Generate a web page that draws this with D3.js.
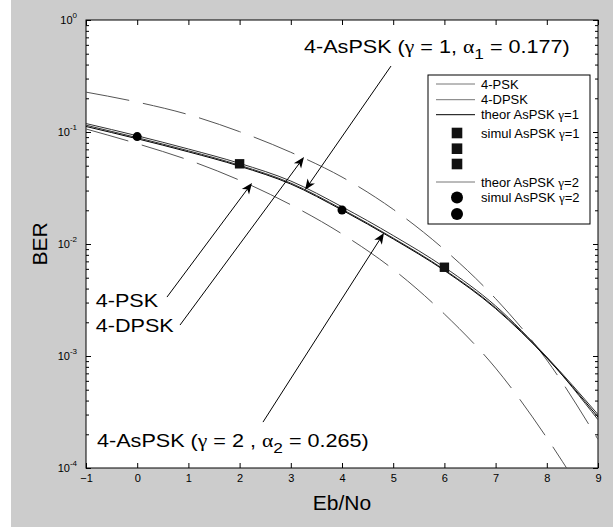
<!DOCTYPE html>
<html>
<head>
<meta charset="utf-8">
<script src="https://cdn.jsdelivr.net/npm/d3@7"></script>
<style>
  body { margin: 0; background: #fff; }
  svg { display: block; }
  text { font-family: "Liberation Sans", Arial, Helvetica, sans-serif; fill: #000; }
  .greek { font-family: "Liberation Serif", "DejaVu Serif", serif; }
</style>
</head>
<body>
<div class="chart"></div>
<script>
// data
var ebNo = [-1, 0, 1, 2, 3, 4, 5, 6, 7, 8, 9];
var berPsk = [0.119, 0.0925, 0.0705, 0.0525, 0.0365, 0.0215, 0.0119, 0.0062, 0.0028, 0.00098, 0.000300];
var berDpsk = [0.115, 0.089, 0.068, 0.0505, 0.035, 0.0205, 0.0113, 0.0059, 0.0027, 0.00097, 0.000270];
var berTheor1 = [0.112, 0.087, 0.0665, 0.0495, 0.0343, 0.0201, 0.0111, 0.0058, 0.00265, 0.00096, 0.000285];
var berDashHigh = [0.227, 0.185, 0.143, 0.1007, 0.0659, 0.0396, 0.0204, 0.0089, 0.00325, 0.00092, 0.00018];
var dashLowX = [-1, 0, 1, 2, 3, 4, 5, 6, 7, 8, 8.5];
var berDashLow = [0.1064, 0.0787, 0.0562, 0.0371, 0.0224, 0.0123, 0.00594, 0.00237, 0.00078, 0.000186, 0.000083];
var simul1X = [2, 6];
var simul1Ber = [0.052, 0.0062];
var simul2X = [0, 4];
var simul2Ber = [0.091, 0.0201];
var xTicks = [-1, 0, 1, 2, 3, 4, 5, 6, 7, 8, 9];
var yTicks = [1e-4, 1e-3, 1e-2, 1e-1, 1];
var yTickExp = ["-4", "-3", "-2", "-1", "0"];

var width = 613;
var height = 527;
var margin = { top: 20, right: 15, bottom: 59, left: 86 };

var svg = d3
  .select(".chart")
  .append("svg")
  .attr("width", width)
  .attr("height", height);

// figure background
svg.append("rect").attr("width", width).attr("height", height).attr("fill", "#fff");
svg.append("rect").attr("x", 11).attr("width", width - 11).attr("height", height).attr("fill", "#cccccc");

var x = d3.scaleLinear().domain([-1, 9]).range([margin.left, width - margin.right]);
var y = d3.scaleLog().domain([1e-4, 1]).range([height - margin.bottom, margin.top]);

svg.append("rect")
  .attr("x", x(-1)).attr("y", y(1))
  .attr("width", x(9) - x(-1)).attr("height", y(1e-4) - y(1))
  .attr("fill", "#fff");

svg.append("clipPath").attr("id", "plotClip")
  .append("rect")
  .attr("x", x(-1)).attr("y", y(1))
  .attr("width", x(9) - x(-1)).attr("height", y(1e-4) - y(1));

// axes, ticks pointing inwards
var minorTicks = y.ticks().filter(function (v) {
  return Math.abs(Math.log10(v) - Math.round(Math.log10(v))) > 1e-6;
});

function styleAxis(g) {
  g.select(".domain").remove();
  g.selectAll("line").attr("stroke", "#000");
}

svg.append("g")
  .attr("transform", `translate(0,${y(1e-4)})`)
  .call(d3.axisBottom(x).tickValues(xTicks).tickSizeInner(-5).tickSizeOuter(0).tickPadding(6).tickFormat(d3.format("d")))
  .call(styleAxis)
  .selectAll("text")
  .attr("font-size", 11);

svg.append("g")
  .attr("transform", `translate(0,${y(1)})`)
  .call(d3.axisTop(x).tickValues(xTicks).tickSizeInner(-5).tickSizeOuter(0).tickFormat(""))
  .call(styleAxis);

[["left", x(-1), d3.axisLeft], ["right", x(9), d3.axisRight]].forEach(function (a) {
  svg.append("g")
    .attr("transform", `translate(${a[1]},0)`)
    .call(a[2](y).tickValues(yTicks).tickSizeInner(-5).tickSizeOuter(0).tickFormat(""))
    .call(styleAxis);
  svg.append("g")
    .attr("transform", `translate(${a[1]},0)`)
    .call(a[2](y).tickValues(minorTicks).tickSizeInner(-3).tickSizeOuter(0).tickFormat(""))
    .call(styleAxis);
});

// y tick labels 10^n
var yLab = svg.append("g")
  .selectAll("text")
  .data(yTicks)
  .enter()
  .append("text")
  .attr("x", x(-1) - 9)
  .attr("y", function (d) { return y(d) + 4; })
  .attr("text-anchor", "end")
  .attr("font-size", 11);
yLab.append("tspan").text("10");
yLab.append("tspan")
  .attr("dy", -6)
  .attr("font-size", 8)
  .text(function (d, i) { return yTickExp[i]; });

// frame
svg.append("rect")
  .attr("x", x(-1)).attr("y", y(1))
  .attr("width", x(9) - x(-1)).attr("height", y(1e-4) - y(1))
  .attr("fill", "none").attr("stroke", "#000").attr("stroke-width", 1);

// axis titles
svg.append("text")
  .attr("x", (x(-1) + x(9)) / 2)
  .attr("y", 510)
  .attr("text-anchor", "middle")
  .attr("font-size", 21)
  .text("Eb/No");

svg.append("text")
  .attr("transform", `translate(47,${(y(1) + y(1e-4)) / 2}) rotate(-90)`)
  .attr("text-anchor", "middle")
  .attr("font-size", 21)
  .text("BER");

// curves
var plot = svg.append("g").attr("clip-path", "url(#plotClip)");

var line = d3.line()
  .x(function (d) { return x(d[0]); })
  .y(function (d) { return y(d[1]); })
  .curve(d3.curveMonotoneX);

function zip(xs, ys) {
  return xs.map(function (v, i) { return [v, ys[i]]; });
}

var curves = [
  { pts: zip(ebNo, berDashHigh), color: "#555", dash: "44,14" },
  { pts: zip(dashLowX, berDashLow), color: "#555", dash: "44,14" },
  { pts: zip(ebNo, berPsk), color: "#333", dash: null },
  { pts: zip(ebNo, berDpsk), color: "#333", dash: null },
  { pts: zip(ebNo, berTheor1), color: "#000", dash: null },
];

plot.selectAll(".curve")
  .data(curves)
  .enter()
  .append("path")
  .attr("class", "curve")
  .attr("fill", "none")
  .attr("stroke", function (d) { return d.color; })
  .attr("stroke-width", 1)
  .attr("stroke-dasharray", function (d) { return d.dash; })
  .attr("d", function (d) { return line(d.pts); });

// simulated points
plot.selectAll(".sq")
  .data(zip(simul1X, simul1Ber))
  .enter()
  .append("rect")
  .attr("x", function (d) { return x(d[0]) - 4.7; })
  .attr("y", function (d) { return y(d[1]) - 4.7; })
  .attr("width", 9.4)
  .attr("height", 9.4)
  .attr("fill", "#111");

plot.selectAll(".dot")
  .data(zip(simul2X, simul2Ber))
  .enter()
  .append("circle")
  .attr("cx", function (d) { return x(d[0]); })
  .attr("cy", function (d) { return y(d[1]); })
  .attr("r", 4.5)
  .attr("fill", "#000");

// text with greek letters and subscripts
function richText(sel, parts) {
  parts.forEach(function (p) {
    var t = sel.append("tspan").text(p.t);
    if (p.greek) t.attr("class", "greek");
    if (p.sub) t.attr("dy", 6).attr("font-size", "0.8em");
    if (p.unsub) t.attr("dy", -6);
  });
}

// annotations, positions in data units
var notes = [
  { at: [-0.81, 0.00274], parts: [{ t: "4-PSK" }] },
  { at: [-0.81, 0.00164], parts: [{ t: "4-DPSK" }] },
  { at: [3.258, 0.507], parts: [{ t: "4-AsPSK (" }, { t: "γ", greek: true }, { t: " = 1, " }, { t: "α", greek: true }, { t: "1", sub: true }, { t: " = 0.177)", unsub: true }] },
  { at: [-0.785, 0.000154], parts: [{ t: "4-AsPSK (" }, { t: "γ", greek: true }, { t: " = 2 , " }, { t: "α", greek: true }, { t: "2", sub: true }, { t: " = 0.265)", unsub: true }] },
];

notes.forEach(function (n) {
  var t = svg.append("text")
    .attr("transform", `translate(${x(n.at[0])},${y(n.at[1])}) scale(1.2,1)`)
    .attr("font-size", 18);
  richText(t, n.parts);
});

var arrows = [
  { from: [0.582, 0.00336], to: [2.242, 0.0351] },
  { from: [0.836, 0.00189], to: [3.258, 0.0598] },
  { from: [4.957, 0.388], to: [3.277, 0.0303] },
  { from: [2.457, 0.000257], to: [4.82, 0.01254] },
];

arrows.forEach(function (a) {
  var x0 = x(a.from[0]), y0 = y(a.from[1]);
  var x1 = x(a.to[0]), y1 = y(a.to[1]);
  var ang = Math.atan2(y1 - y0, x1 - x0) * 180 / Math.PI;
  svg.append("line")
    .attr("x1", x0).attr("y1", y0)
    .attr("x2", x1 - 6 * Math.cos(ang * Math.PI / 180))
    .attr("y2", y1 - 6 * Math.sin(ang * Math.PI / 180))
    .attr("stroke", "#000").attr("stroke-width", 1);
  svg.append("path")
    .attr("d", "M0,0L-11,-4.5L-8,0L-11,4.5Z")
    .attr("transform", `translate(${x1},${y1}) rotate(${ang})`)
    .attr("fill", "#000");
});

// legend
var legendRows = [
  { label: [{ t: "4-PSK" }], kind: "line", color: "#777", dy: 9 },
  { label: [{ t: "4-DPSK" }], kind: "line", color: "#777", dy: 24.7 },
  { label: [{ t: "theor AsPSK " }, { t: "γ", greek: true }, { t: "=1" }], kind: "line", color: "#000", dy: 39.7 },
  { label: [{ t: "simul AsPSK " }, { t: "γ", greek: true }, { t: "=1" }], kind: "square", dy: 58 },
  { label: null, kind: "square", dy: 73.7 },
  { label: null, kind: "square", dy: 89 },
  { label: [{ t: "theor AsPSK " }, { t: "γ", greek: true }, { t: "=2" }], kind: "line", color: "#777", dy: 107 },
  { label: [{ t: "simul AsPSK " }, { t: "γ", greek: true }, { t: "=2" }], kind: "circle", dy: 122.5 },
  { label: null, kind: "circle", dy: 139 },
];

var legend = svg.append("g").attr("transform", "translate(428,75)");
legend.append("rect")
  .attr("width", 162).attr("height", 149)
  .attr("fill", "#fff").attr("stroke", "#000").attr("stroke-width", 1);

legendRows.forEach(function (r) {
  if (r.kind === "line") {
    legend.append("line")
      .attr("x1", 8).attr("x2", 47).attr("y1", r.dy).attr("y2", r.dy)
      .attr("stroke", r.color).attr("stroke-width", 1);
  } else if (r.kind === "square") {
    legend.append("rect")
      .attr("x", 29 - 5.3).attr("y", r.dy - 5.3)
      .attr("width", 10.6).attr("height", 10.6).attr("fill", "#111");
  } else {
    legend.append("circle").attr("cx", 29).attr("cy", r.dy).attr("r", 6).attr("fill", "#000");
  }
  if (r.label) {
    var t = legend.append("text")
      .attr("x", 53).attr("y", r.dy + 4.5)
      .attr("font-size", 13);
    richText(t, r.label);
  }
});
</script>
</body>
</html>
